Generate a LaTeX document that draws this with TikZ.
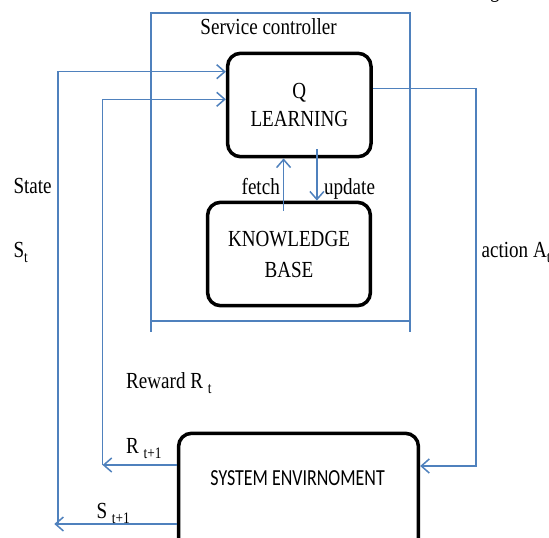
\documentclass[tikz,border=0pt]{standalone}
\usepackage{fontspec}
\usepackage{graphicx}
\setmainfont{Liberation Serif}
\newfontfamily\calib{Carlito}
\usetikzlibrary{arrows.meta}
\definecolor{lineblue}{RGB}{79,129,189}
\newcommand{\sx}[1]{\scalebox{0.83}[1]{#1}}
\newcommand{\sbs}[1]{\raisebox{-5pt}{\fontsize{16}{16}\selectfont #1}}
\begin{document}
\begin{tikzpicture}[x=1pt,y=-1pt,
  conn/.style={draw=lineblue, line width=1.5pt},
  arr/.style={conn, -{Straight Barb[length=8pt,width=14pt]}},
  box/.style={draw=black, line width=3.5pt, rounded corners=13pt, inner sep=0pt},
  lbl/.style={font=\fontsize{23}{26}\selectfont, inner sep=0pt},
]
\useasboundingbox (0,0) rectangle (549,538);
\clip (0,0) rectangle (549,538);
\fill[white] (0,0) rectangle (549,538);

% service controller frame
\coordinate (sTL) at (150.8,13);
\coordinate (sTR) at (410.2,13);
\coordinate (sBL) at (150.8,321);
\coordinate (sBR) at (410.2,321);
\draw[conn] (sTL |- 0,331.7) -- (sTL) -- (sTR) -- (sTR |- 0,331.7);
\draw[conn] (sBL) -- (sBR);
\node[lbl] (sc) at (268.6,26.7) {\sx{Service controller}};

% boxes
\node[box, minimum width=143.4pt, minimum height=103.4pt, align=center,
      font=\fontsize{23}{28}\selectfont] (q) at (299.3,105) {\sx{Q}\\\sx{LEARNING}};
\node[box, minimum width=162.8pt, minimum height=103.4pt, align=center,
      font=\fontsize{23}{31}\selectfont] (kb) at (289,254) {\sx{KNOWLEDGE}\\\sx{BASE}};
\node[box, minimum width=239.8pt, minimum height=190pt] (se) at (298.5,528.3) {};
\node[inner sep=0pt, font=\calib\fontsize{23}{26}\selectfont] (setext) at (297.6,478)
  {\scalebox{0.78}[1]{SYSTEM ENVIRNOMENT}};

% fetch / update
\coordinate (fB) at (283.6,210.7);
\coordinate (uT) at (316.9,149);
\draw[arr] (fB) -- (fB |- q.south);
\draw[arr] (uT) -- (uT |- kb.north);
\node[lbl, anchor=base east] (fetch) at (280,194) {\sx{fetch}};
\node[lbl, anchor=base west] (update) at (323.9,194) {\sx{update}};

% outer state loop
\coordinate (oL) at (57.8,524);
\coordinate (oT) at (57.8,71.7);
\coordinate (oB) at (54.3,524);
\draw[arr] (oL) -- (oT) -- (q.west |- oT);
\draw[arr] (se.west |- oB) -- (oB);

% inner reward loop
\coordinate (iL) at (102.6,465);
\coordinate (iT) at (102.6,99.3);
\draw[arr] (iL) -- (iT) -- (q.west |- iT);
\draw[arr] (se.west |- iL) -- (iL);

% action
\coordinate (aR) at (476.2,88.3);
\coordinate (aB) at (476.2,466);
\draw[arr] (q.east |- aR) -- (aR) -- (aB) -- (se.east |- aB);

% labels
\node[lbl, anchor=base west] (state) at (13.3,193.5) {\sx{State}};
\node[lbl, anchor=base west] (st) at (13.3,257) {\sx{S\sbs{t}}};
\node[lbl, anchor=base west] (act) at (481.4,257) {\sx{action A\sbs{t}}};
\node[lbl, anchor=base west] (rew) at (126,388) {\sx{Reward R \sbs{t}}};
\node[lbl, anchor=base west] (r1) at (126,453.5) {\sx{R \sbs{t+1}}};
\node[lbl, anchor=base west] (s1) at (96.3,518) {\sx{S \sbs{t+1}}};
\node[lbl, anchor=base] (gfrag) at (495,-2) {\sx{g}};
\end{tikzpicture}
\end{document}
